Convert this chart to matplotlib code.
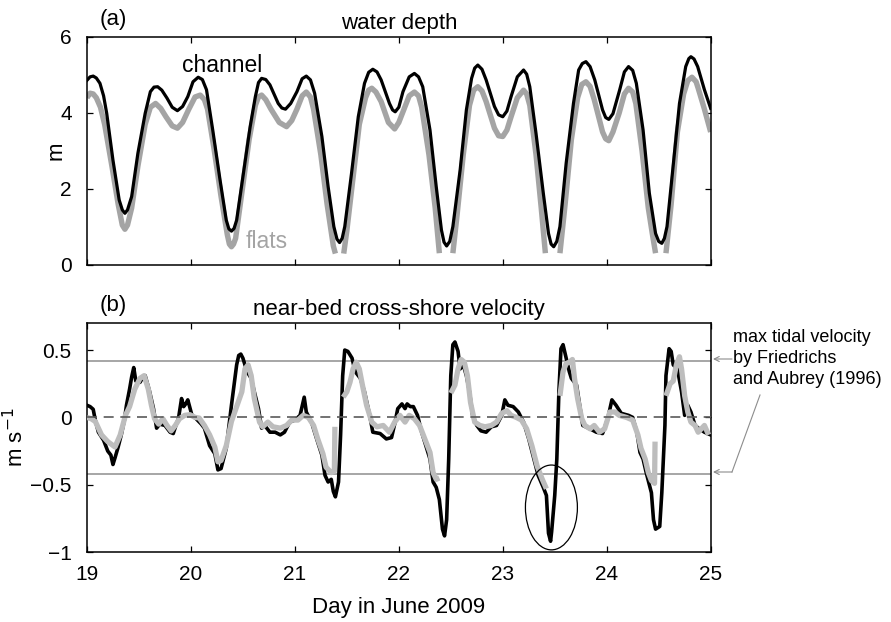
import matplotlib.pyplot as plt
import numpy as np
from matplotlib.lines import Line2D
from matplotlib.patches import Ellipse

plt.rcParams["font.family"] = ["Liberation Sans", "DejaVu Sans"]
plt.rcParams["font.size"] = 15

nan = np.nan

# water depth (m), channel sensor
depth_day_channel = [
    19.00, 19.03, 19.06, 19.09, 19.125, 19.16, 19.19, 19.25, 19.31, 19.34, 19.365, 19.39,
    19.43, 19.49, 19.56, 19.61, 19.645, 19.68, 19.72, 19.77, 19.82, 19.87, 19.92, 19.97,
    20.02, 20.07, 20.11, 20.15, 20.21, 20.28, 20.34, 20.365, 20.39, 20.415, 20.44, 20.50,
    20.57, 20.62, 20.65, 20.68, 20.72, 20.76, 20.84, 20.875, 20.91, 20.96, 21.02, 21.07,
    21.11, 21.15, 21.19, 21.26, 21.32, 21.375, 21.405, 21.43, 21.455, 21.48, 21.545, 21.61,
    21.67, 21.71, 21.75, 21.79, 21.83, 21.91, 21.94, 21.965, 22.00, 22.04, 22.10, 22.15,
    22.19, 22.23, 22.30, 22.36, 22.41, 22.435, 22.46, 22.49, 22.52, 22.59, 22.65, 22.70,
    22.73, 22.76, 22.80, 22.84, 22.92, 22.96, 23.00, 23.04, 23.08, 23.14, 23.20, 23.23,
    23.26, 23.32, 23.39, 23.44, 23.465, 23.49, 23.52, 23.55, 23.61, 23.68, 23.73, 23.765,
    23.80, 23.84, 23.885, 23.96, 23.99, 24.02, 24.06, 24.125, 24.17, 24.21, 24.25, 24.285,
    24.35, 24.41, 24.47, 24.50, 24.53, 24.555, 24.58, 24.645, 24.70, 24.76, 24.79, 24.81,
    24.84, 24.875, 24.94, 25.00,
]
depth_channel = [
    4.86, 4.95, 4.97, 4.92, 4.78, 4.45, 3.99, 2.76, 1.71, 1.45, 1.36, 1.45,
    1.80, 2.94, 3.99, 4.56, 4.68, 4.69, 4.60, 4.39, 4.15, 4.06, 4.17, 4.43,
    4.82, 4.94, 4.88, 4.61, 3.55, 2.24, 1.18, 0.95, 0.89, 0.96, 1.18, 2.32,
    3.64, 4.43, 4.80, 4.91, 4.88, 4.74, 4.25, 4.13, 4.10, 4.25, 4.56, 4.90,
    4.97, 4.87, 4.52, 3.38, 2.06, 1.01, 0.68, 0.59, 0.70, 1.01, 2.41, 3.90,
    4.78, 5.07, 5.15, 5.08, 4.87, 4.25, 4.08, 4.03, 4.15, 4.56, 4.95, 5.04,
    4.95, 4.69, 3.55, 2.06, 0.92, 0.60, 0.50, 0.62, 1.01, 2.50, 4.08, 4.91,
    5.18, 5.26, 5.15, 4.87, 4.17, 3.95, 3.90, 4.05, 4.43, 4.95, 5.13, 5.02,
    4.69, 3.46, 1.89, 0.83, 0.55, 0.48, 0.62, 1.01, 2.68, 4.25, 5.13, 5.30,
    5.35, 5.22, 4.87, 4.08, 3.88, 3.83, 3.98, 4.61, 5.08, 5.22, 5.12, 4.78,
    3.55, 1.89, 0.83, 0.62, 0.57, 0.70, 1.01, 2.76, 4.25, 5.22, 5.43, 5.48,
    5.42, 5.22, 4.61, 4.12,
]

# water depth (m), flats sensor (gaps where the sensor runs dry)
depth_day_flats = [
    19.00, 19.03, 19.06, 19.09, 19.13, 19.17, 19.24, 19.30, 19.34, 19.365, 19.39, 19.43,
    19.49, 19.56, 19.61, 19.66, 19.71, 19.76, 19.82, 19.87, 19.92, 19.98, 20.04, 20.09,
    20.13, 20.16, 20.22, 20.29, 20.35, 20.37, 20.39, 20.41, 20.43, 20.49, 20.56, 20.62,
    20.65, 20.68, 20.72, 20.77, 20.85, 20.92, 20.97, 21.02, 21.07, 21.11, 21.15, 21.18,
    21.25, 21.31, 21.37, 21.39, 21.43, 21.47, 21.50, 21.56, 21.62, 21.68, 21.71, 21.74,
    21.78, 21.83, 21.90, 21.96, 22.00, 22.05, 22.10, 22.15, 22.19, 22.22, 22.29, 22.35,
    22.39, 22.45, 22.52, 22.56, 22.62, 22.68, 22.72, 22.76, 22.80, 22.84, 22.92, 22.96,
    23.00, 23.04, 23.08, 23.14, 23.20, 23.23, 23.26, 23.32, 23.37, 23.41, 23.48, 23.55,
    23.60, 23.66, 23.72, 23.76, 23.80, 23.84, 23.88, 23.96, 23.99, 24.02, 24.06, 24.12,
    24.17, 24.21, 24.25, 24.28, 24.34, 24.40, 24.44, 24.47, 24.52, 24.57, 24.62, 24.68,
    24.74, 24.78, 24.82, 24.86, 24.88, 24.94, 25.00,
]
depth_flats = [
    4.40, 4.52, 4.50, 4.40, 4.15, 3.70, 2.60, 1.60, 1.05, 0.94, 1.05, 1.50,
    2.60, 3.70, 4.15, 4.25, 4.12, 3.90, 3.66, 3.60, 3.75, 4.10, 4.42, 4.47,
    4.35, 4.10, 3.10, 1.80, 0.80, 0.55, 0.48, 0.55, 0.70, 1.90, 3.30, 4.20,
    4.42, 4.47, 4.35, 4.10, 3.75, 3.64, 3.80, 4.10, 4.45, 4.55, 4.42, 4.10,
    2.90, 1.60, 0.50, 0.30, nan, 0.30, 0.90, 2.30, 3.70, 4.40, 4.60, 4.65,
    4.55, 4.30, 3.75, 3.58, 3.75, 4.10, 4.45, 4.55, 4.45, 4.15, 2.90, 1.50,
    0.31, nan, 0.31, 1.30, 2.90, 4.20, 4.60, 4.69, 4.58, 4.30, 3.60, 3.40,
    3.38, 3.55, 3.90, 4.40, 4.60, 4.50, 4.20, 2.90, 1.50, 0.31, nan, 0.31,
    1.60, 3.30, 4.40, 4.75, 4.82, 4.70, 4.35, 3.50, 3.32, 3.27, 3.50, 4.00,
    4.50, 4.65, 4.55, 4.25, 3.00, 1.50, 0.80, 0.31, nan, 0.31, 1.60, 3.50,
    4.50, 4.85, 4.94, 4.82, 4.65, 4.10, 3.50,
]

# near-bed cross-shore velocity (m/s), channel
vel_day_channel = [
    19.00, 19.03, 19.06, 19.08, 19.11, 19.16, 19.20, 19.23, 19.25, 19.27, 19.30, 19.33,
    19.36, 19.38, 19.41, 19.43, 19.45, 19.47, 19.51, 19.54, 19.56, 19.60, 19.64, 19.67,
    19.70, 19.75, 19.80, 19.83, 19.86, 19.88, 19.91, 19.93, 19.95, 19.97, 20.01, 20.05,
    20.10, 20.13, 20.18, 20.23, 20.26, 20.29, 20.34, 20.39, 20.44, 20.46, 20.48, 20.50,
    20.54, 20.58, 20.61, 20.65, 20.68, 20.71, 20.76, 20.81, 20.86, 20.90, 20.95, 21.00,
    21.05, 21.09, 21.11, 21.16, 21.21, 21.26, 21.29, 21.32, 21.35, 21.37, 21.39, 21.42,
    21.44, 21.46, 21.48, 21.51, 21.55, 21.58, 21.63, 21.67, 21.72, 21.75, 21.82, 21.88,
    21.93, 21.96, 21.99, 22.03, 22.06, 22.08, 22.11, 22.14, 22.18, 22.22, 22.26, 22.30,
    22.33, 22.36, 22.39, 22.42, 22.44, 22.46, 22.48, 22.50, 22.52, 22.54, 22.57, 22.59,
    22.62, 22.65, 22.68, 22.71, 22.75, 22.79, 22.84, 22.89, 22.94, 22.99, 23.02, 23.05,
    23.10, 23.15, 23.20, 23.25, 23.30, 23.34, 23.39, 23.42, 23.44, 23.46, 23.47, 23.50,
    23.52, 23.54, 23.56, 23.58, 23.61, 23.64, 23.66, 23.71, 23.74, 23.77, 23.84, 23.90,
    23.96, 24.01, 24.05, 24.09, 24.14, 24.21, 24.25, 24.29, 24.32, 24.35, 24.38, 24.43,
    24.45, 24.47, 24.51, 24.53, 24.56, 24.57, 24.60, 24.62, 24.64, 24.68, 24.72, 24.75,
    24.78, 24.81, 24.85, 24.89, 24.94, 25.00,
]
vel_channel = [
    0.09, 0.08, 0.06, -0.02, -0.11, -0.17, -0.25, -0.28, -0.35, -0.30, -0.22, -0.13,
    -0.02, 0.09, 0.21, 0.30, 0.37, 0.27, 0.26, 0.30, 0.31, 0.20, 0.065, -0.08,
    -0.05, -0.06, -0.11, -0.12, -0.05, -0.01, 0.14, 0.08, 0.10, 0.13, 0.015, -0.01,
    -0.05, -0.08, -0.21, -0.27, -0.39, -0.38, -0.23, 0.09, 0.39, 0.46, 0.47, 0.44,
    0.34, 0.29, 0.19, 0.065, -0.08, -0.06, -0.11, -0.11, -0.13, -0.11, -0.035, -0.02,
    0.015, 0.15, 0.04, -0.035, -0.16, -0.28, -0.43, -0.48, -0.46, -0.55, -0.59, -0.48,
    -0.13, 0.31, 0.50, 0.49, 0.44, 0.34, 0.29, 0.19, 0.015, -0.11, -0.12, -0.16,
    -0.15, -0.05, 0.065, 0.10, 0.065, 0.10, 0.08, 0.08, 0.015, -0.11, -0.21, -0.31,
    -0.48, -0.52, -0.61, -0.83, -0.88, -0.76, -0.31, 0.31, 0.54, 0.56, 0.49, 0.36,
    0.39, 0.31, 0.19, 0.015, -0.06, -0.10, -0.11, -0.07, -0.06, 0.015, 0.13, 0.09,
    0.08, 0.04, -0.035, -0.16, -0.31, -0.43, -0.52, -0.58, -0.86, -0.92, -0.85, -0.58,
    -0.31, 0.19, 0.51, 0.54, 0.44, 0.34, 0.29, 0.24, 0.09, -0.06, -0.085, -0.11,
    -0.12, -0.01, 0.13, 0.09, 0.03, 0.015, 0.0, -0.11, -0.26, -0.31, -0.41, -0.56,
    -0.76, -0.83, -0.81, -0.56, -0.06, 0.31, 0.51, 0.49, 0.39, 0.36, 0.19, 0.015,
    0.09, 0.04, -0.06, -0.085, -0.11, -0.13,
]

# near-bed cross-shore velocity (m/s), flats
vel_day_flats = [
    19.00, 19.04, 19.08, 19.14, 19.20, 19.27, 19.32, 19.37, 19.41, 19.46, 19.51, 19.55,
    19.59, 19.62, 19.65, 19.69, 19.73, 19.77, 19.81, 19.85, 19.89, 19.94, 19.99, 20.04,
    20.08, 20.13, 20.18, 20.23, 20.26, 20.29, 20.34, 20.39, 20.44, 20.49, 20.52, 20.55,
    20.58, 20.61, 20.66, 20.69, 20.74, 20.79, 20.86, 20.92, 20.97, 21.03, 21.08, 21.13,
    21.18, 21.22, 21.27, 21.30, 21.35, 21.38, 21.385, 21.42, 21.465, 21.50, 21.53, 21.56,
    21.59, 21.62, 21.65, 21.69, 21.74, 21.79, 21.85, 21.91, 21.96, 22.01, 22.06, 22.10,
    22.15, 22.20, 22.25, 22.30, 22.33, 22.36, 22.39, 22.45, 22.50, 22.54, 22.57, 22.60,
    22.63, 22.66, 22.69, 22.73, 22.78, 22.83, 22.89, 22.94, 22.99, 23.04, 23.08, 23.13,
    23.18, 23.23, 23.28, 23.33, 23.38, 23.42, 23.48, 23.55, 23.58, 23.61, 23.64, 23.67,
    23.69, 23.72, 23.76, 23.79, 23.84, 23.88, 23.93, 23.98, 24.03, 24.08, 24.12, 24.19,
    24.25, 24.30, 24.33, 24.37, 24.40, 24.43, 24.46, 24.465, 24.52, 24.57, 24.61, 24.64,
    24.67, 24.70, 24.72, 24.75, 24.78, 24.81, 24.85, 24.88, 24.91, 24.94, 24.98,
]
vel_flats = [
    0.0, -0.01, -0.03, -0.13, -0.18, -0.22, -0.13, 0.015, 0.08, 0.21, 0.29, 0.31,
    0.21, 0.09, -0.01, -0.05, -0.01, -0.06, -0.10, -0.06, -0.01, 0.015, 0.02, 0.0,
    -0.005, -0.06, -0.13, -0.22, -0.33, -0.32, -0.21, -0.03, 0.08, 0.19, 0.36, 0.39,
    0.31, 0.14, -0.035, -0.07, -0.035, -0.07, -0.08, -0.06, -0.02, -0.02, 0.015, 0.0,
    -0.06, -0.16, -0.27, -0.37, -0.41, -0.40, -0.07, nan, 0.15, 0.19, 0.26, 0.36,
    0.41, 0.36, 0.24, 0.09, -0.035, -0.07, -0.06, -0.11, -0.035, 0.015, -0.035, 0.015,
    -0.01, -0.06, -0.16, -0.26, -0.41, -0.46, -0.45, nan, 0.18, 0.24, 0.36, 0.43,
    0.41, 0.31, 0.11, -0.035, -0.06, -0.07, -0.06, -0.035, 0.03, 0.05, 0.015, 0.0,
    -0.02, -0.085, -0.21, -0.36, -0.46, -0.53, nan, 0.16, 0.34, 0.40, 0.41, 0.43,
    0.29, 0.14, -0.01, -0.06, -0.085, -0.06, -0.11, -0.085, 0.04, 0.04, 0.015, 0.0,
    -0.02, -0.13, -0.23, -0.31, -0.41, -0.47, -0.49, -0.18, nan, 0.16, 0.25, 0.27,
    0.39, 0.45, 0.36, 0.16, 0.04, -0.035, -0.06, -0.11, -0.085, -0.06, -0.13,
]

max_tidal_velocity = 0.42

black = "#000000"
grey_depth = "#a4a4a4"
grey_vel = "#bdbdbd"
ref_grey = "#a6a6a6"

fig = plt.figure(figsize=(8.91, 6.22), dpi=100)
ax1 = fig.add_axes([0.0976, 0.574, 0.700, 0.3666])
ax2 = fig.add_axes([0.0976, 0.1125, 0.700, 0.368])

for ax in (ax1, ax2):
    ax.set_xlim(19, 25)
    ax.set_xticks([19, 20, 21, 22, 23, 24, 25])
    ax.tick_params(direction="in", top=True, right=True, length=4.5, width=0.9,
                   labelsize=15)
    ax.tick_params(axis="x", pad=9)
    ax.tick_params(axis="y", pad=11)
    for spine in ax.spines.values():
        spine.set_linewidth(1.1)

# (a) water depth
ax1.plot(depth_day_flats, depth_flats, color=grey_depth, lw=3.9, solid_capstyle="butt",
         solid_joinstyle="round")
ax1.plot(depth_day_channel, depth_channel, color=black, lw=2.3, solid_joinstyle="round")
ax1.set_ylim(0, 6)
ax1.set_yticks([0, 2, 4, 6])
ax1.tick_params(labelbottom=False)
ax1.set_ylabel("m", fontsize=16)
ax1.yaxis.set_label_coords(-0.032, 0.5)
ax1.set_title("water depth", fontsize=16, pad=6)
ax1.text(0.02, 1.03, "(a)", transform=ax1.transAxes, fontsize=16, va="bottom")
ax1.text(20.30, 5.24, "channel", fontsize=16.5, ha="center", va="center", color=black)
ax1.text(20.73, 0.61, "flats", fontsize=16.5, ha="center", va="center", color=grey_depth)

# (b) near-bed cross-shore velocity
ax2.axhline(max_tidal_velocity, color=ref_grey, lw=1.4, zorder=1)
ax2.axhline(-max_tidal_velocity, color=ref_grey, lw=1.4, zorder=1)
ax2.plot(vel_day_channel, vel_channel, color=black, lw=2.6, zorder=2)
ax2.plot(vel_day_flats, vel_flats, color=grey_vel, lw=3.8, zorder=3, solid_capstyle="butt")
ax2.axhline(0, color="#5a5a5a", lw=1.2, dashes=(6, 4), zorder=4)
ax2.add_patch(Ellipse((23.468, -0.669), 0.5, 0.63, fill=False, lw=0.9,
                      edgecolor=black, zorder=5))
ax2.set_ylim(-1, 0.7)
ax2.set_yticks([-1, -0.5, 0, 0.5])
ax2.set_yticklabels(["\u22121", "\u22120.5", "0", "0.5"])
ax2.set_ylabel("m s$^{-1}$", fontsize=16)
ax2.yaxis.set_label_coords(-0.095, 0.5)
ax2.set_xlabel("Day in June 2009", fontsize=16, labelpad=10)
ax2.set_title("near-bed cross-shore velocity", fontsize=16, pad=6)
ax2.text(0.02, 1.03, "(b)", transform=ax2.transAxes, fontsize=16, va="bottom")

# reference note with arrows to the two horizontal lines
W, H = 891.0, 622.0
fig.text(733 / W, 1 - 329 / H, "max tidal velocity\nby Friedrichs\nand Aubrey (1996)",
         fontsize=13, va="top", ha="left", linespacing=1.3)
arrow = dict(arrowstyle="->", color="#8c8c8c", lw=0.8, shrinkA=0, shrinkB=0,
             mutation_scale=9)
ax2.annotate("", xy=(713 / W, 1 - 359 / H), xycoords="figure fraction",
             xytext=(732 / W, 1 - 359 / H), textcoords="figure fraction",
             arrowprops=arrow)
fig.add_artist(Line2D([760 / W, 732 / W], [1 - 395 / H, 1 - 472 / H],
                      transform=fig.transFigure, color="#8c8c8c", lw=0.8))
ax2.annotate("", xy=(713 / W, 1 - 472 / H), xycoords="figure fraction",
             xytext=(732 / W, 1 - 472 / H), textcoords="figure fraction",
             arrowprops=arrow)

fig.savefig("out.png", dpi=100)
